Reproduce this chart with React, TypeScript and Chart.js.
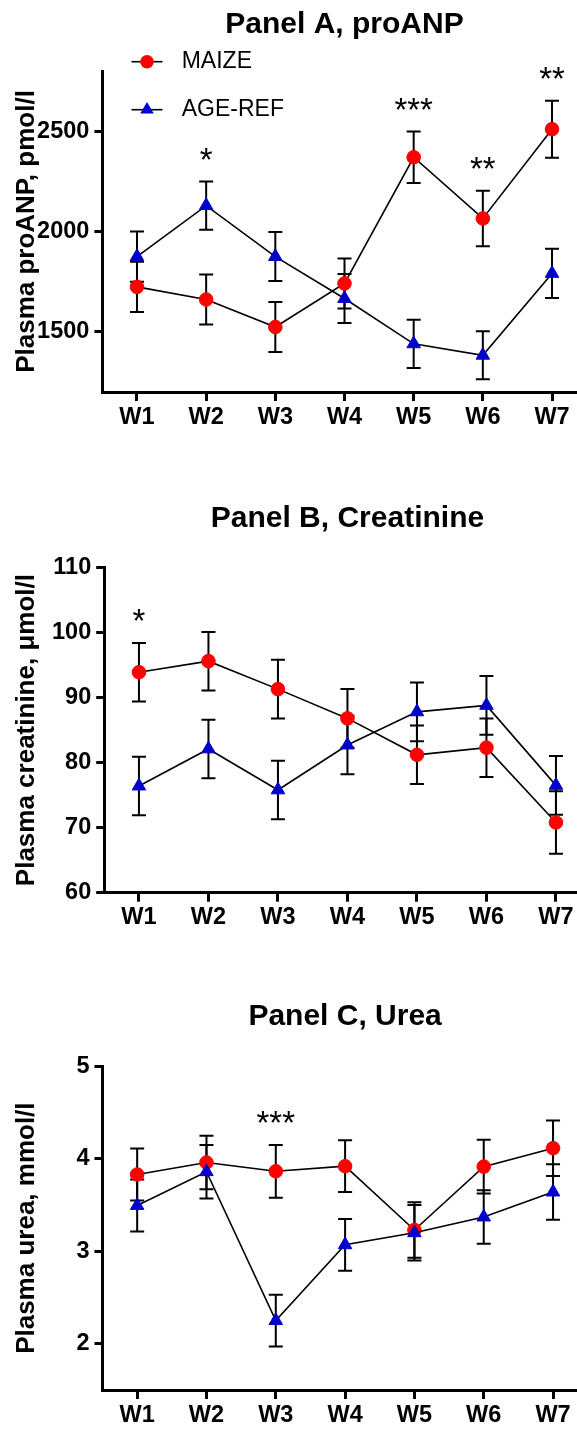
import React, { useEffect, useRef } from 'react';
import { Chart, registerables } from 'chart.js';

Chart.register(...registerables);

// ---------- data ----------
const weeks = ['W1', 'W2', 'W3', 'W4', 'W5', 'W6', 'W7'];
const seriesNames = ['MAIZE', 'AGE-REF'];

const anpMaize = [1724, 1661, 1524, 1741, 2370, 2065, 2510];
const anpMaizeErr = [125, 125, 125, 125, 128, 138, 142];
const anpRef = [1875, 2129, 1875, 1666, 1440, 1383, 1791];
const anpRefErr = [125, 120, 122, 122, 120, 120, 123];
const anpStars = ['', '*', '', '', '***', '**', '**'];
const anpTicks = [1500, 2000, 2500];

const creMaize = [93.9, 95.6, 91.3, 86.8, 81.2, 82.3, 70.8];
const creMaizeErr = [4.5, 4.5, 4.5, 4.5, 4.5, 4.5, 4.8];
const creRef = [76.4, 82.1, 75.8, 82.7, 87.8, 88.8, 76.5];
const creRefErr = [4.5, 4.5, 4.5, 4.5, 4.5, 4.5, 4.5];
const creStars = ['*', '', '', '', '', '', ''];
const creTicks = [60, 70, 80, 90, 100, 110];

const ureaMaize = [3.83, 3.96, 3.865, 3.92, 3.23, 3.915, 4.115];
const ureaMaizeErr = [0.28, 0.29, 0.285, 0.28, 0.3, 0.29, 0.3];
const ureaRef = [3.495, 3.86, 2.25, 3.07, 3.2, 3.37, 3.64];
const ureaRefErr = [0.28, 0.29, 0.28, 0.28, 0.3, 0.29, 0.3];
const ureaStars = ['', '', '***', '', '', '', ''];
const ureaTicks = [2, 3, 4, 5];

// ---------- styles ----------
const FONT = "'Liberation Sans', Arial, Helvetica, sans-serif";
const RED = '#FF0000';
const BLUE = '#0000CC';
const CANVAS_W = 600;
const TITLE_SIZE = 30;
const TICK_SIZE = 23.5;

const errorBarsPlugin = {
  id: 'errorBars',
  beforeDatasetsDraw(chart: any, _args: any, opts: any) {
    const errs: number[][] = opts.errors || [];
    const ctx = chart.ctx;
    const y = chart.scales.y;
    chart.data.datasets.forEach((ds: any, i: number) => {
      const meta = chart.getDatasetMeta(i);
      const e = errs[i];
      if (!e) return;
      meta.data.forEach((pt: any, j: number) => {
        const v = ds.data[j];
        const yt = y.getPixelForValue(v + e[j]);
        const yb = y.getPixelForValue(v - e[j]);
        ctx.save();
        ctx.strokeStyle = '#000';
        ctx.lineWidth = 2;
        ctx.beginPath();
        ctx.moveTo(pt.x, yt);
        ctx.lineTo(pt.x, yb);
        ctx.moveTo(pt.x - 7, yt);
        ctx.lineTo(pt.x + 7, yt);
        ctx.moveTo(pt.x - 7, yb);
        ctx.lineTo(pt.x + 7, yb);
        ctx.stroke();
        ctx.restore();
      });
    });
  },
};

const starsPlugin = {
  id: 'stars',
  afterDatasetsDraw(chart: any, _args: any, opts: any) {
    const stars: string[] = opts.stars || [];
    const errs: number[][] = chart.options.plugins.errorBars.errors || [];
    const ctx = chart.ctx;
    const y = chart.scales.y;
    const x = chart.scales.x;
    stars.forEach((s, j) => {
      if (!s) return;
      let top = Infinity;
      chart.data.datasets.forEach((ds: any, i: number) => {
        const e = errs[i] ? errs[i][j] : 0;
        top = Math.min(top, y.getPixelForValue(ds.data[j] + e));
      });
      ctx.save();
      ctx.fillStyle = '#000';
      ctx.font = `normal 33px ${FONT}`;
      ctx.textAlign = 'center';
      ctx.textBaseline = 'middle';
      ctx.fillText(s, x.getPixelForValue(j), top - 20);
      ctx.restore();
    });
  },
};

const legendPlugin = {
  id: 'customLegend',
  afterDraw(chart: any, _args: any, opts: any) {
    if (!opts || !opts.show) return;
    const ctx = chart.ctx;
    chart.data.datasets.forEach((ds: any, i: number) => {
      const cy = opts.y + i * opts.rowGap;
      const cx = opts.x;
      ctx.save();
      ctx.strokeStyle = '#000';
      ctx.lineWidth = 1.6;
      ctx.beginPath();
      ctx.moveTo(cx - 15.5, cy);
      ctx.lineTo(cx + 15.5, cy);
      ctx.stroke();
      ctx.fillStyle = ds.pointBackgroundColor;
      ctx.beginPath();
      if (ds.pointStyle === 'triangle') {
        const r = ds.pointRadius;
        let rad = 0;
        ctx.moveTo(cx + Math.sin(rad) * r, cy - Math.cos(rad) * r);
        rad += (2 * Math.PI) / 3;
        ctx.lineTo(cx + Math.sin(rad) * r, cy - Math.cos(rad) * r);
        rad += (2 * Math.PI) / 3;
        ctx.lineTo(cx + Math.sin(rad) * r, cy - Math.cos(rad) * r);
        ctx.closePath();
      } else {
        ctx.arc(cx, cy, ds.pointRadius, 0, Math.PI * 2);
      }
      ctx.fill();
      ctx.fillStyle = '#000';
      ctx.font = `normal 23px ${FONT}`;
      ctx.textAlign = 'left';
      ctx.textBaseline = 'middle';
      ctx.fillText(ds.label, opts.textX, cy);
      ctx.restore();
    });
  },
};

type PanelSpec = {
  title: string;
  yTitle: string;
  maize: number[];
  maizeErr: number[];
  ref: number[];
  refErr: number[];
  stars: string[];
  ticks: number[];
  min: number;
  max: number;
  top: number;
  height: number;
  titleCenter: number;
  areaTop: number;
  areaBottom: number;
  left: number;
  right: number;
  legend: boolean;
};

const panels: PanelSpec[] = [
  {
    title: 'Panel A, proANP',
    yTitle: 'Plasma proANP, pmol/l',
    maize: anpMaize, maizeErr: anpMaizeErr, ref: anpRef, refErr: anpRefErr,
    stars: anpStars, ticks: anpTicks, min: 1200, max: 2800,
    top: 0, height: 445, titleCenter: 25, areaTop: 71, areaBottom: 392,
    left: 102.4, right: 586.6, legend: true,
  },
  {
    title: 'Panel B, Creatinine',
    yTitle: 'Plasma creatinine, \u03bcmol/l',
    maize: creMaize, maizeErr: creMaizeErr, ref: creRef, refErr: creRefErr,
    stars: creStars, ticks: creTicks, min: 60, max: 110,
    top: 460, height: 480, titleCenter: 59, areaTop: 107.5, areaBottom: 432.7,
    left: 104.2, right: 590.7, legend: false,
  },
  {
    title: 'Panel C, Urea',
    yTitle: 'Plasma urea, mmol/l',
    maize: ureaMaize, maizeErr: ureaMaizeErr, ref: ureaRef, refErr: ureaRefErr,
    stars: ureaStars, ticks: ureaTicks, min: 1.5, max: 5,
    top: 950, height: 479, titleCenter: 67, areaTop: 116.3, areaBottom: 440,
    left: 102.5, right: 587.7, legend: false,
  },
];

function makeChart(canvas: HTMLCanvasElement, p: PanelSpec) {
  const titleLH = TITLE_SIZE * 1.2;
  const axisGrid = {
    display: true,
    drawOnChartArea: false,
    drawTicks: true,
    offset: false,
    color: '#000',
    lineWidth: 3,
    tickColor: '#000',
    tickWidth: 3,
  };
  return new Chart(canvas, {
    type: 'line',
    data: {
      labels: weeks,
      datasets: [
        {
          label: seriesNames[0],
          data: p.maize,
          order: 1,
          borderColor: '#000',
          borderWidth: 1.6,
          pointStyle: 'circle',
          pointRadius: 6.8,
          pointBackgroundColor: RED,
          pointBorderColor: RED,
          pointBorderWidth: 1,
          tension: 0,
        },
        {
          label: seriesNames[1],
          data: p.ref,
          order: 0,
          borderColor: '#000',
          borderWidth: 1.6,
          pointStyle: 'triangle',
          pointRadius: 7.8,
          pointBackgroundColor: BLUE,
          pointBorderColor: BLUE,
          pointBorderWidth: 1,
          tension: 0,
        },
      ],
    },
    options: {
      responsive: false,
      animation: false,
      events: [],
      layout: { padding: { left: 0, right: CANVAS_W - p.right, top: 0, bottom: 0 } },
      plugins: {
        legend: { display: false },
        tooltip: { enabled: false },
        title: {
          display: true,
          text: p.title,
          fullSize: false,
          color: '#000',
          font: { family: FONT, size: TITLE_SIZE, weight: 'bold', lineHeight: 1.2 },
          padding: {
            top: p.titleCenter - titleLH / 2,
            bottom: p.areaTop - p.titleCenter - titleLH / 2,
          },
        },
        errorBars: { errors: [p.maizeErr, p.refErr] },
        stars: { stars: p.stars },
        customLegend: { show: p.legend, x: 147, y: 61.7, rowGap: 48, textX: 181.7 },
      } as any,
      scales: {
        x: {
          type: 'category',
          offset: true,
          grid: { ...axisGrid, tickLength: 9 },
          border: { display: true, color: '#000', width: 3 },
          ticks: {
            color: '#000',
            font: { family: FONT, size: TICK_SIZE, weight: 'bold' },
            padding: 2,
            maxRotation: 0,
            autoSkip: false,
          },
          afterFit: (s: any) => {
            s.height = p.height - p.areaBottom;
          },
        },
        y: {
          type: 'linear',
          min: p.min,
          max: p.max,
          afterBuildTicks: (s: any) => {
            s.ticks = p.ticks.map((v) => ({ value: v }));
          },
          grid: { ...axisGrid, tickLength: 8 },
          border: { display: true, color: '#000', width: 3 },
          ticks: {
            color: '#000',
            font: { family: FONT, size: TICK_SIZE, weight: 'bold' },
            padding: 5,
            callback: (v: any) => String(v),
          },
          title: {
            display: true,
            text: p.yTitle,
            color: '#000',
            font: { family: FONT, size: 26, weight: 'bold', lineHeight: 1.2 },
            padding: { top: 11.6, bottom: 0 },
          },
          afterFit: (s: any) => {
            s.width = p.left;
          },
        },
      },
    } as any,
    plugins: [errorBarsPlugin, starsPlugin, legendPlugin],
  });
}

export default function App() {
  const refs = [useRef<HTMLCanvasElement>(null), useRef<HTMLCanvasElement>(null), useRef<HTMLCanvasElement>(null)];

  useEffect(() => {
    const charts = panels.map((p, i) => makeChart(refs[i].current as HTMLCanvasElement, p));
    return () => charts.forEach((c) => c.destroy());
  }, []);

  return (
    <div
      style={{
        position: 'absolute',
        left: 0,
        top: 0,
        width: 577,
        height: 1429,
        overflow: 'hidden',
        background: '#fff',
      }}
    >
      {panels.map((p, i) => (
        <canvas
          key={p.title}
          ref={refs[i]}
          width={CANVAS_W}
          height={p.height}
          style={{ position: 'absolute', left: 0, top: p.top }}
        />
      ))}
    </div>
  );
}
